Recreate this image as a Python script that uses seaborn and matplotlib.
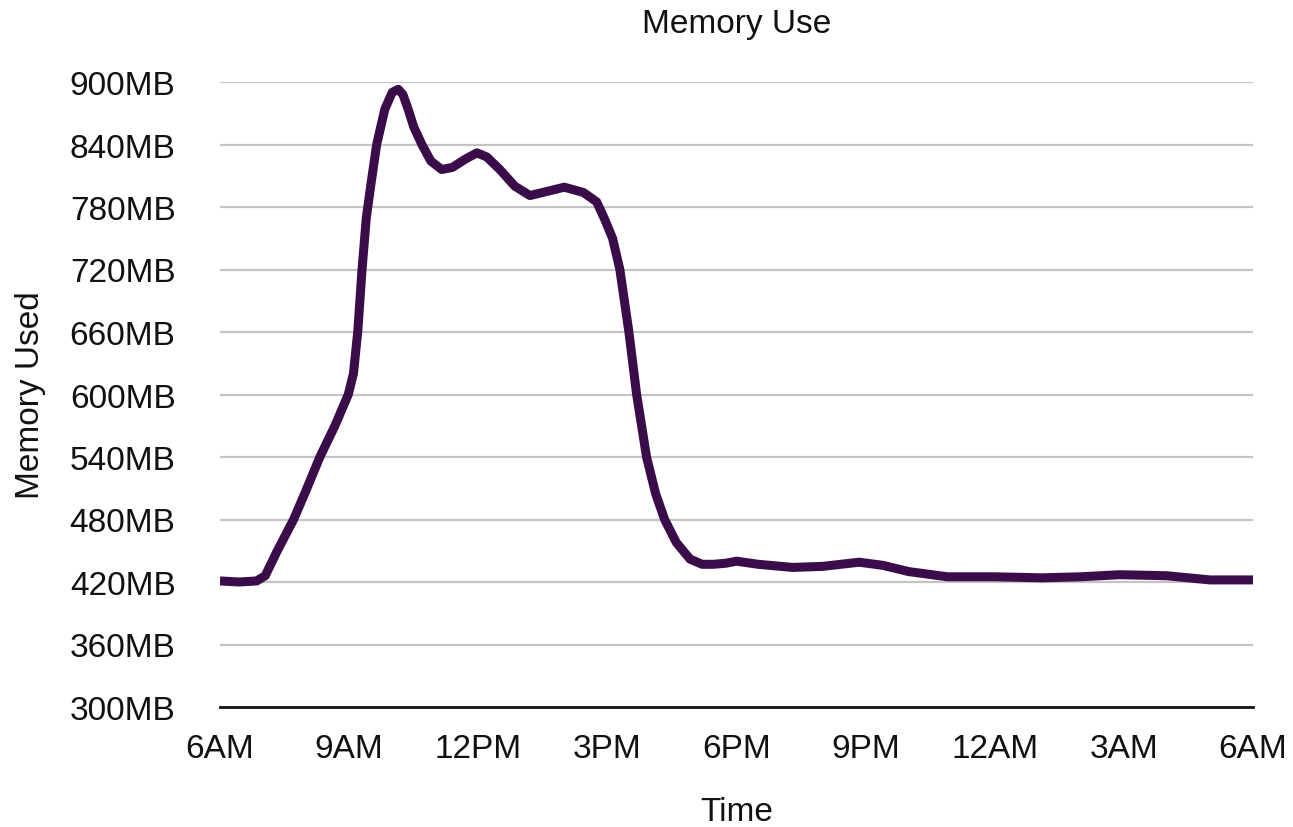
import matplotlib
matplotlib.use("Agg")
import matplotlib.pyplot as plt
import seaborn as sns
import pandas as pd

# Hours since 6AM and memory used (MB)
hours = [0.0, 0.45, 0.85, 1.05, 1.32, 1.71, 1.98, 2.32, 2.67, 2.98, 3.1,
         3.2, 3.3, 3.4, 3.5, 3.64, 3.83, 4.0, 4.14, 4.25, 4.37, 4.5, 4.69,
         4.9, 5.15, 5.4, 5.7, 5.97, 6.2, 6.5, 6.85, 7.2, 7.6, 8.0, 8.44,
         8.75, 8.94, 9.12, 9.29, 9.5, 9.68, 9.91, 10.12, 10.33, 10.6, 10.92,
         11.2, 11.46, 11.75, 12.0, 12.5, 13.3, 14.0, 14.85, 15.4, 16.0, 16.9,
         18.0, 19.1, 20.0, 20.9, 22.0, 23.0, 24.0]
memory_mb = [421, 420, 421, 426, 449, 480, 506, 540, 570, 600, 620,
             660, 720, 770, 800, 840, 874, 890, 893, 888, 874, 857, 840,
             824, 816, 818, 826, 832, 828, 816, 800, 791, 795, 799, 794,
             785, 768, 750, 720, 660, 600, 540, 505, 480, 458, 442,
             437, 437, 438, 440, 437, 434, 435, 439, 436, 430, 425,
             425, 424, 425, 427, 426, 422, 422]

x_ticks = [0, 3, 6, 9, 12, 15, 18, 21, 24]
x_tick_labels = ["6AM", "9AM", "12PM", "3PM", "6PM", "9PM", "12AM", "3AM", "6AM"]
y_ticks = [300, 360, 420, 480, 540, 600, 660, 720, 780, 840, 900]
y_tick_labels = [f"{v}MB" for v in y_ticks]

sns.set_style("white")
plt.rcParams["font.family"] = ["Liberation Sans", "DejaVu Sans"]

df = pd.DataFrame({"hours": hours, "memory": memory_mb})

fig = plt.figure(figsize=(12.93, 8.28), dpi=100)
ax = fig.add_axes([220 / 1293, 1 - 708 / 828, (1253 - 220) / 1293, (708 - 83) / 828])

for v in y_ticks[1:]:
    ax.axhline(v, color="#c4c4c4", lw=1.6, zorder=1)

sns.lineplot(data=df, x="hours", y="memory", ax=ax, color="#3b0c4a",
             linewidth=6.5, zorder=3, solid_capstyle="butt",
             solid_joinstyle="round")

ax.set_xlim(0, 24)
ax.set_ylim(300, 900)
ax.set_xticks(x_ticks)
ax.set_xticklabels(x_tick_labels)
ax.set_yticks(y_ticks)
ax.set_yticklabels(y_tick_labels)
ax.tick_params(axis="both", length=0, labelsize=24, colors="#111111")
ax.tick_params(axis="y", pad=32)
ax.tick_params(axis="x", pad=19)

for s in ["left", "right", "top"]:
    ax.spines[s].set_visible(False)
ax.spines["bottom"].set_color("#111111")
ax.spines["bottom"].set_linewidth(2.0)
ax.grid(False)

ax.set_xlabel("Time", fontsize=24, labelpad=23, color="#111111")
ax.set_ylabel("Memory Used", fontsize=24, labelpad=17, color="#111111")
ax.set_title("Memory Use", fontsize=24, pad=36, color="#111111")

fig.savefig("out.png", dpi=100, facecolor="white")
